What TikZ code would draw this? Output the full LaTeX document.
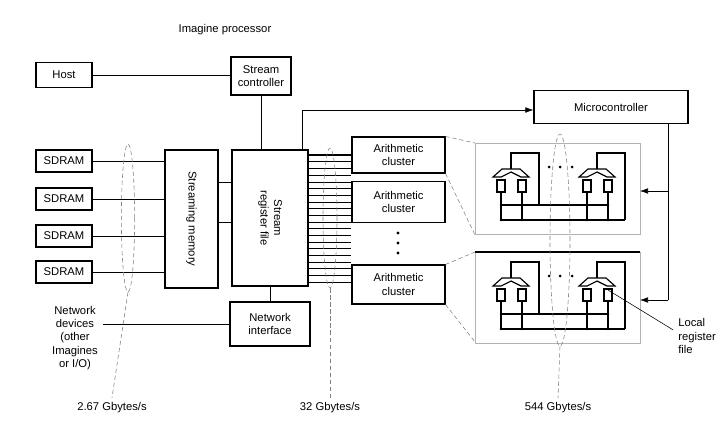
\documentclass[tikz,border=0pt]{standalone}
\usepackage{fontspec}
\setmainfont{Liberation Sans}
\usetikzlibrary{positioning, arrows.meta, shapes.geometric}

\tikzset{
  box/.style={draw, thick, rectangle, inner sep=0pt, align=center, font=\footnotesize},
  lbl/.style={font=\footnotesize, align=center},
  link/.style={draw, thin},
  rate/.style={draw=gray, densely dashed, thin},
  arrow/.style={-{Latex[length=2mm,width=1.4mm]}, thin},
  pics/unit/.style={code={
    \draw[thick] (-18,10) -- (-9,2) -- (9,2) -- (18,10) -- (10,10) -- (0,5) -- (-10,10) -- cycle;
    \draw[thick] (-14,13) rectangle (-6,25);
    \draw[thick] (7,13) rectangle (15,25);
    \draw[thick] (-10,25) -- (-10,53);
    \draw[thick] (11,25) -- (11,53);
    \fill (-10,38) circle (1.3) (-10,53) circle (1.3) (11,38) circle (1.3) (11,53) circle (1.3);
  }},
  pics/detail/.style={code={
    \draw[draw=gray!60, thin] (0,0) rectangle (165,91);
    \pic at (36,24) {unit};
    \pic at (122,24) {unit};
    \draw[thick] (36,26) -- (36,10) -- (64,10) -- (64,62);
    \draw[thick] (122,26) -- (122,10) -- (150,10) -- (150,77);
    \draw[thick] (26,62) -- (133,62);
    \draw[thick] (26,77) -- (150,77);
    \foreach \dx in {74,85,97} \fill (\dx,24) circle (1.5);
  }}
}

\begin{document}
\begin{tikzpicture}[x=0.025cm, y=-0.025cm]
\useasboundingbox (0,0) rectangle (722,422);

% title
\node[lbl] (title) at (225,30) {Imagine processor};

% off-chip side
\node[box, minimum width=56*0.025cm, minimum height=25*0.025cm] (host) at (64,75) {Host};
\foreach \i/\y in {1/161,2/199,3/236,4/272}
  \node[box, minimum width=56*0.025cm, minimum height=22*0.025cm] (sdram\i) at (64,\y) {SDRAM};
\node[lbl] (netdev) at (75,338) {Network\\devices\\(other\\Imagines\\or I/O)};

% processor blocks
\node[box, minimum width=60*0.025cm, minimum height=38*0.025cm] (ctrl) at (261,76) {Stream\\controller};
\node[box, minimum width=53*0.025cm, minimum height=138*0.025cm] (smem) at (191.5,219) {\rotatebox{-90}{Streaming memory}};
\node[box, minimum width=76*0.025cm, minimum height=136*0.025cm] (srf) at (270,218) {\rotatebox{-90}{\begin{tabular}{c}Stream\\register file\end{tabular}}};
\node[box, minimum width=80*0.025cm, minimum height=44*0.025cm] (net) at (270,324) {Network\\interface};
\node[box, minimum width=154*0.025cm, minimum height=33*0.025cm] (micro) at (611,107) {Microcontroller};
\node[box, minimum width=93*0.025cm, minimum height=36*0.025cm] (alu1) at (398.5,155) {Arithmetic\\cluster};
\node[box, minimum width=93*0.025cm, minimum height=41*0.025cm] (alu2) at (398.5,202) {Arithmetic\\cluster};
\node[box, minimum width=93*0.025cm, minimum height=39*0.025cm] (alu3) at (398.5,284.5) {Arithmetic\\cluster};
\foreach \y in {233,243,253} \fill (398,\y) circle (1.6);

% connections
\draw[link] (host.east) -- (host.east -| ctrl.west);
\draw[link] (ctrl.south) -- (ctrl.south |- srf.north);
\draw[link] (srf.south) -- (net.north);
\draw[link] (net.west) -- (netdev.east |- net.west);
\foreach \i in {1,...,4} \draw[link] (sdram\i.east) -- (sdram\i.east -| smem.west);
\draw[link] (smem.east |- 0,182) -- (srf.west |- 0,182);
\draw[link] (smem.east |- 0,222) -- (srf.west |- 0,222);
\coordinate (up) at (302,110);
\draw[arrow] (srf.north -| up) -- (up) -- (micro.west |- up);
\foreach \k in {0,...,19} {
  \ifnum\k<4 \def\w{thick}\else\ifnum\k>13 \ifnum\k<18 \def\w{thick}\else\def\w{thin}\fi\else\def\w{thin}\fi\fi
  \draw[\w] (srf.east |- 0,{155+\k*6.7}) -- (alu1.west |- 0,{155+\k*6.7});
}

% cluster details
\pic at (475,143) {detail};
\pic at (475,252) {detail};
\draw[thick] (475,252) -- (640,252);
\coordinate (d1tl) at (475,143); \coordinate (d1bl) at (475,235);
\coordinate (d2tl) at (475,252); \coordinate (d2bl) at (475,342);
\draw[rate] (alu1.north east) -- (d1tl);
\draw[rate] (alu1.south east) -- (d1bl);
\draw[rate] (alu3.north east) -- (d2tl);
\draw[rate] (alu3.south east) -- (d2bl);
\coordinate (mc) at (668,300);
\draw[link] (micro.south -| mc) -- (mc);
\draw[arrow] (mc) -- (640,300);
\draw[arrow] (668,191) -- (640,191);

% bandwidth ellipses
\node[rate, ellipse, minimum width=12*0.025cm, minimum height=148*0.025cm] (e1) at (128,218) {};
\node[rate, ellipse, minimum width=14*0.025cm, minimum height=140*0.025cm] (e2) at (330,218) {};
\node[rate, ellipse, minimum width=20*0.025cm, minimum height=212*0.025cm] (e3) at (560,240) {};
\node[lbl] (r1) at (112,408) {2.67 Gbytes/s};
\node[lbl] (r2) at (330,408) {32 Gbytes/s};
\node[lbl] (r3) at (558,408) {544 Gbytes/s};
\draw[rate] (e1.south) -- (r1.north);
\draw[rate] (e2.south) -- (r2.north);
\draw[rate] (e3.south) -- (r3.north);

% local register file
\node[lbl, align=left] (lrf) at (697,336) {Local\\register\\file};
\draw[link] (608,290) -- (lrf.west |- 0,330);
\end{tikzpicture}
\end{document}
